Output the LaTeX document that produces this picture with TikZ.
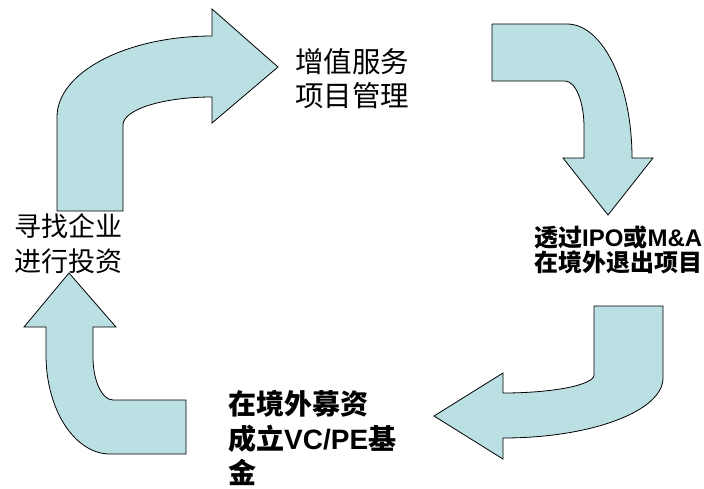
\documentclass[tikz,border=0pt]{standalone}
\usepackage{fontspec}
\setmainfont{Liberation Sans}
\newfontfamily\zh{Noto Sans CJK SC}
\usepackage{tikz}
\usetikzlibrary{calc}

\definecolor{loopfill}{RGB}{187,224,227}

\begin{document}
\begin{tikzpicture}[x=1pt, y=-1pt,
  loop/.style={fill=loopfill, draw=black, line width=0.8pt, line join=miter},
  label/.style={anchor=base west, inner sep=0pt, align=left}]

\useasboundingbox (0, 0) rectangle (704, 488);

\filldraw[loop] (57, 211) -- (57, 117) .. controls (57, 72.3) and (126.4, 36) .. (212, 36)
  -- (212, 9) -- (278, 67) -- (212, 123) -- (212, 97)
  .. controls (162.9, 97) and (123, 109.5) .. (123, 125) -- (123, 211) -- cycle;

\filldraw[loop] (492, 24) -- (567, 24) .. controls (602.9, 24) and (632, 84) .. (632, 158)
  -- (653, 158) -- (608, 215) -- (563, 158) -- (584, 158) -- (584, 127)
  .. controls (584, 101.6) and (575.5, 81) .. (565, 81) -- (492, 81) -- cycle;

\filldraw[loop] (594, 306) -- (663, 306) -- (663, 378) .. controls (663, 411.1) and (591.3, 438) .. (503, 438)
  -- (503, 459) -- (434, 416) -- (503, 373) -- (503, 393)
  .. controls (553.2, 393) and (594, 384.9) .. (594, 375) -- cycle;

\filldraw[loop] (186, 400) -- (186, 454) -- (110, 454) .. controls (74.7, 454) and (46, 409.6) .. (46, 355)
  -- (46, 327) -- (24, 327) -- (69, 273) -- (116, 327) -- (93, 327) -- (93, 357)
  .. controls (93, 380.7) and (102, 400) .. (113, 400) -- cycle;

\node[label, font={\zh\fontsize{28.5}{34}\selectfont\lineskiplimit=-50pt}] (service) at (295, 106.5)
  {增值服务\\项目管理};
\node[label, font={\zh\bfseries\fontsize{24}{25}\selectfont\lineskiplimit=-50pt}] (exit) at (534, 271)
  {透过{\rmfamily\bfseries IPO}或{\rmfamily\bfseries M\&A}\\在境外退出项目};
\node[label, font={\zh\bfseries\fontsize{28}{34.5}\selectfont\lineskiplimit=-50pt}] (fund) at (228, 483.5)
  {在境外募资\\成立{\rmfamily\bfseries VC/PE}基\\金};
\node[label, font={\zh\fontsize{27}{35}\selectfont\lineskiplimit=-50pt}] (invest) at (14, 271)
  {寻找企业\\进行投资};

\end{tikzpicture}
\end{document}
